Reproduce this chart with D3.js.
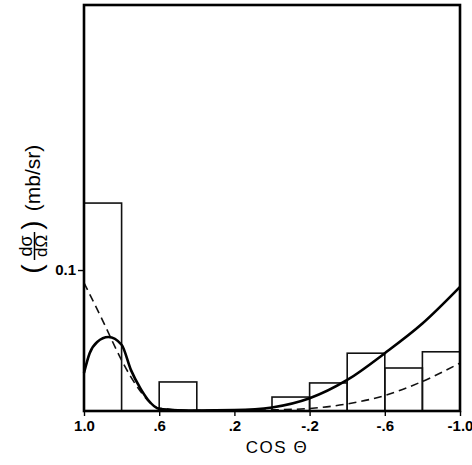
<!DOCTYPE html>
<html>
<head>
<meta charset="utf-8">
<script src="https://cdn.jsdelivr.net/npm/d3@7"></script>
<style>
html,body{margin:0;padding:0;background:#fff;}
svg{display:block;}
</style>
</head>
<body>
<svg id="chart" width="472" height="465"></svg>
<script>
// Histogram bins (cos theta, left edge -> right edge) and heights (mb/sr)
const binStart = [1.0, 0.8, 0.6, 0.4, 0.2, 0.0, -0.2, -0.4, -0.6, -0.8];
const binEnd   = [0.8, 0.6, 0.4, 0.2, 0.0, -0.2, -0.4, -0.6, -0.8, -1.0];
const binValue = [0.1475, 0, 0.0206, 0, 0, 0.0099, 0.0199, 0.041, 0.0305, 0.042];

// Solid theoretical curve
const solidCos = [1.0, 0.97, 0.93, 0.87, 0.8, 0.75, 0.7, 0.66, 0.6, 0.5, 0.4, 0.2, 0.0, -0.2, -0.4, -0.6, -0.8, -1.0];
const solidVal = [0.027, 0.041, 0.049, 0.0525, 0.047, 0.029, 0.016, 0.008, 0.0015, 0.0005, 0.0003, 0.0006, 0.0025, 0.009, 0.022, 0.041, 0.062, 0.088];

// Dashed theoretical curve
const dashCos = [1.0, 0.9, 0.8, 0.75, 0.7, 0.65, 0.6, 0.4, 0.2, 0.0, -0.2, -0.4, -0.6, -0.8, -1.0];
const dashVal = [0.091, 0.064, 0.036, 0.024, 0.014, 0.006, 0.002, 0.0003, 0.0003, 0.0008, 0.0018, 0.005, 0.011, 0.021, 0.034];

// Axis ticks
const xTicks = [1.0, 0.6, 0.2, -0.2, -0.6, -1.0];
const xTickLabels = ["1.0", ".6", ".2", "-.2", "-.6", "-1.0"];
const yTicks = [0.1];
const yTickLabels = ["0.1"];

const svg = d3.select("#chart");
const mLeft = 84, mRight = 460, mTop = 5, mBottom = 411;

const x = d3.scaleLinear().domain([1, -1]).range([mLeft, mRight]);
const y = d3.scaleLinear().domain([0, 0.288]).range([mBottom, mTop]);

// Histogram
const bins = binStart.map((s, i) => ({s, e: binEnd[i], v: binValue[i]})).filter(b => b.v > 0);
svg.append("g").selectAll("rect").data(bins).join("rect")
  .attr("x", d => x(d.s))
  .attr("y", d => y(d.v))
  .attr("width", d => x(d.e) - x(d.s))
  .attr("height", d => y(0) - y(d.v))
  .attr("fill", "none")
  .attr("stroke", "#111")
  .attr("stroke-width", 1.6);

// Curves
const line = d3.line().x(d => x(d[0])).y(d => y(d[1])).curve(d3.curveMonotoneX);
svg.append("path")
  .datum(dashCos.map((c, i) => [c, dashVal[i]]))
  .attr("d", line)
  .attr("fill", "none")
  .attr("stroke", "#111")
  .attr("stroke-width", 1.6)
  .attr("stroke-dasharray", "8,5");

svg.append("path")
  .datum(solidCos.map((c, i) => [c, solidVal[i]]))
  .attr("d", line)
  .attr("fill", "none")
  .attr("stroke", "#000")
  .attr("stroke-width", 2.6);

// Frame
svg.append("rect")
  .attr("x", mLeft).attr("y", mTop)
  .attr("width", mRight - mLeft).attr("height", mBottom - mTop)
  .attr("fill", "none").attr("stroke", "#000").attr("stroke-width", 2.6);

// X axis
const xAxis = d3.axisBottom(x).tickValues(xTicks)
  .tickFormat((d, i) => xTickLabels[i]).tickSize(5).tickPadding(4);
const gx = svg.append("g").attr("transform", `translate(0,${mBottom})`).call(xAxis);
gx.select(".domain").remove();
gx.selectAll("line").attr("stroke", "#000").attr("stroke-width", 1.4);
gx.selectAll("text")
  .attr("font-family", "Liberation Sans, Arial, sans-serif")
  .attr("font-weight", "bold")
  .attr("font-size", 15)
  .attr("fill", "#000");

// Y axis
const yAxis = d3.axisLeft(y).tickValues(yTicks)
  .tickFormat((d, i) => yTickLabels[i]).tickSize(6).tickPadding(2);
const gy = svg.append("g").attr("transform", `translate(${mLeft},0)`).call(yAxis);
gy.select(".domain").remove();
gy.selectAll("line").attr("stroke", "#000").attr("stroke-width", 1.4);
gy.selectAll("text")
  .attr("font-family", "Liberation Sans, Arial, sans-serif")
  .attr("font-weight", "bold")
  .attr("font-size", 15)
  .attr("fill", "#000");

// X title
svg.append("text")
  .attr("x", 277).attr("y", 453)
  .attr("text-anchor", "middle")
  .attr("font-family", "Liberation Sans, Arial, sans-serif")
  .attr("font-size", 17)
  .attr("letter-spacing", 1.5)
  .attr("fill", "#000")
  .text("COS Θ");

// Y title (rotated)
const yl = svg.append("g").attr("transform", "rotate(-90)")
  .attr("font-family", "Liberation Sans, Arial, sans-serif")
  .attr("fill", "#000");
yl.append("text").attr("x", -269).attr("y", 41).attr("text-anchor", "middle")
  .attr("font-size", 28).text("(");
yl.append("text").attr("x", -246).attr("y", 32).attr("text-anchor", "middle")
  .attr("font-size", 18).text("dσ");
yl.append("line").attr("x1", -260).attr("x2", -232).attr("y1", 34.5).attr("y2", 34.5)
  .attr("stroke", "#000").attr("stroke-width", 1.5);
yl.append("text").attr("x", -246).attr("y", 47).attr("text-anchor", "middle")
  .attr("font-size", 17).text("dΩ");
yl.append("text").attr("x", -225).attr("y", 41).attr("text-anchor", "middle")
  .attr("font-size", 28).text(")");
yl.append("text").attr("x", -178).attr("y", 40).attr("text-anchor", "middle")
  .attr("font-size", 21).text("(mb/sr)");
</script>
</body>
</html>
